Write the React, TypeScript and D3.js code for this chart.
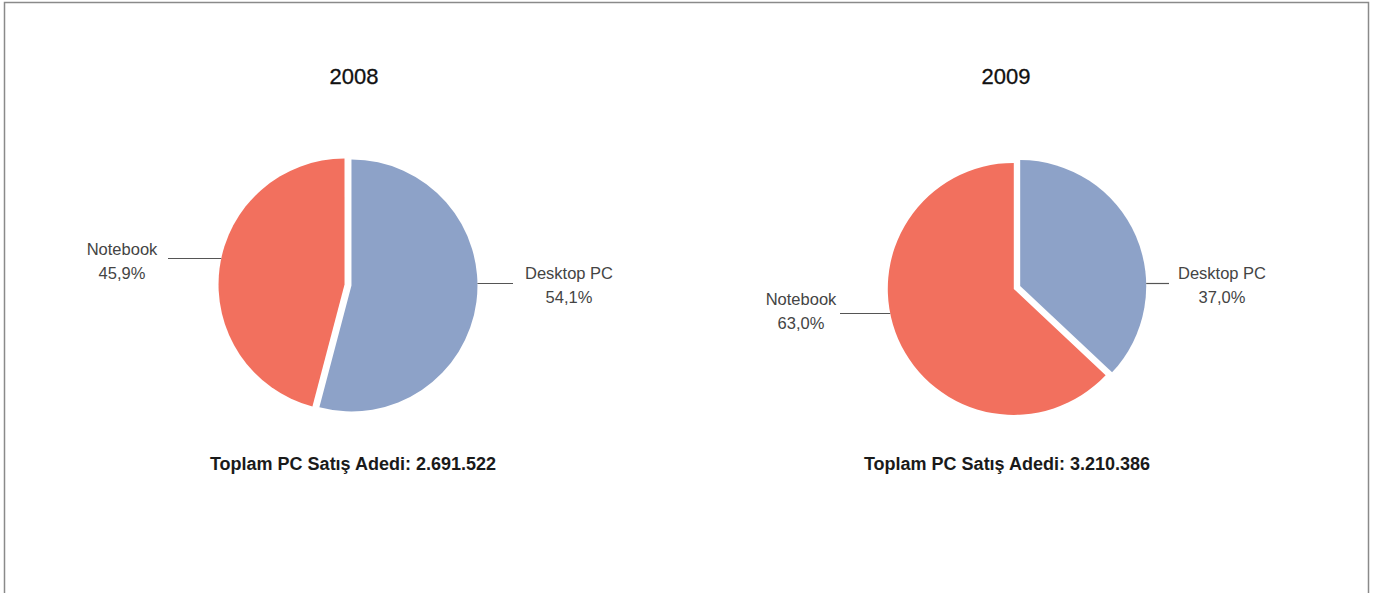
import React from "react";
import * as d3 from "d3";

const years = ["2008", "2009"];
const categories = ["Desktop PC", "Notebook"];
const desktopShare = [54.1, 37.0];
const notebookShare = [45.9, 63.0];
const totals = ["2.691.522", "3.210.386"];
const totalLabel = "Toplam PC Satış Adedi: ";

const COLORS = ["#8DA2C8", "#F2705E"];
const W = 1375;
const H = 593;
const R = 126;
const EXPLODE = 3.5;

// layout per pie: centre, title/total x, label anchor positions (leader line y, text x)
const layout = [
  {
    cx: 348, cy: 285, titleX: 354, totalX: 353,
    labels: [
      { side: 1, lineY: 283.5, lineEnd: 513, textX: 569, textY: 279 },
      { side: -1, lineY: 258.5, lineEnd: 168, textX: 122, textY: 255 },
    ],
  },
  {
    cx: 1017, cy: 287.5, titleX: 1006, totalX: 1007,
    labels: [
      { side: 1, lineY: 283.5, lineEnd: 1169, textX: 1222, textY: 279 },
      { side: -1, lineY: 313.5, lineEnd: 840, textX: 801, textY: 305 },
    ],
  },
];

const fmt = (v: number) => v.toFixed(1).replace(".", ",") + "%";

export default function App() {
  const pie = d3
    .pie<number>()
    .sort(null)
    .startAngle(0)
    .endAngle(2 * Math.PI)
    .value((d) => d);
  const arc = d3.arc<d3.PieArcDatum<number>>().innerRadius(0).outerRadius(R);

  return (
    <svg
      width={W}
      height={H}
      style={{ position: "absolute", left: 0, top: 0, background: "#fff" }}
      fontFamily="'Liberation Sans', Arial, Helvetica, sans-serif"
    >
      <rect x={4.5} y={2.5} width={1364} height={620} fill="#fff" stroke="#8a8a8a" strokeWidth={1.5} />
      {years.map((yr, i) => {
        const L = layout[i];
        const values = [desktopShare[i], notebookShare[i]];
        const arcs = pie(values);
        return (
          <g key={yr}>
            <text x={L.titleX} y={83.5} textAnchor="middle" fontSize={22} fill="#111" stroke="#111" strokeWidth={0.3}>
              {yr}
            </text>
            {arcs.map((a, j) => {
              const mid = (a.startAngle + a.endAngle) / 2;
              const dx = Math.sin(mid) * EXPLODE;
              const dy = -Math.cos(mid) * EXPLODE;
              const sx = L.cx + dx;
              const sy = L.cy + dy;
              const lab = L.labels[j];
              const h = lab.lineY - sy;
              const edgeX = sx + lab.side * Math.sqrt(Math.max(0, R * R - h * h));
              return (
                <g key={categories[j]}>
                  <path
                    d={arc(a) || ""}
                    transform={`translate(${sx},${sy})`}
                    fill={COLORS[j]}
                  />
                  <line
                    x1={edgeX}
                    x2={lab.lineEnd}
                    y1={lab.lineY}
                    y2={lab.lineY}
                    stroke="#555"
                    strokeWidth={1.2}
                  />
                  <text x={lab.textX} y={lab.textY} textAnchor="middle" fontSize={16.5} fill="#444">
                    {categories[j]}
                  </text>
                  <text x={lab.textX} y={lab.textY + 23.5} textAnchor="middle" fontSize={16.5} fill="#444">
                    {fmt(values[j])}
                  </text>
                </g>
              );
            })}
            <text x={L.totalX} y={470} textAnchor="middle" fontSize={18} fontWeight="bold" fill="#1a1a1a">
              {totalLabel + totals[i]}
            </text>
          </g>
        );
      })}
    </svg>
  );
}
